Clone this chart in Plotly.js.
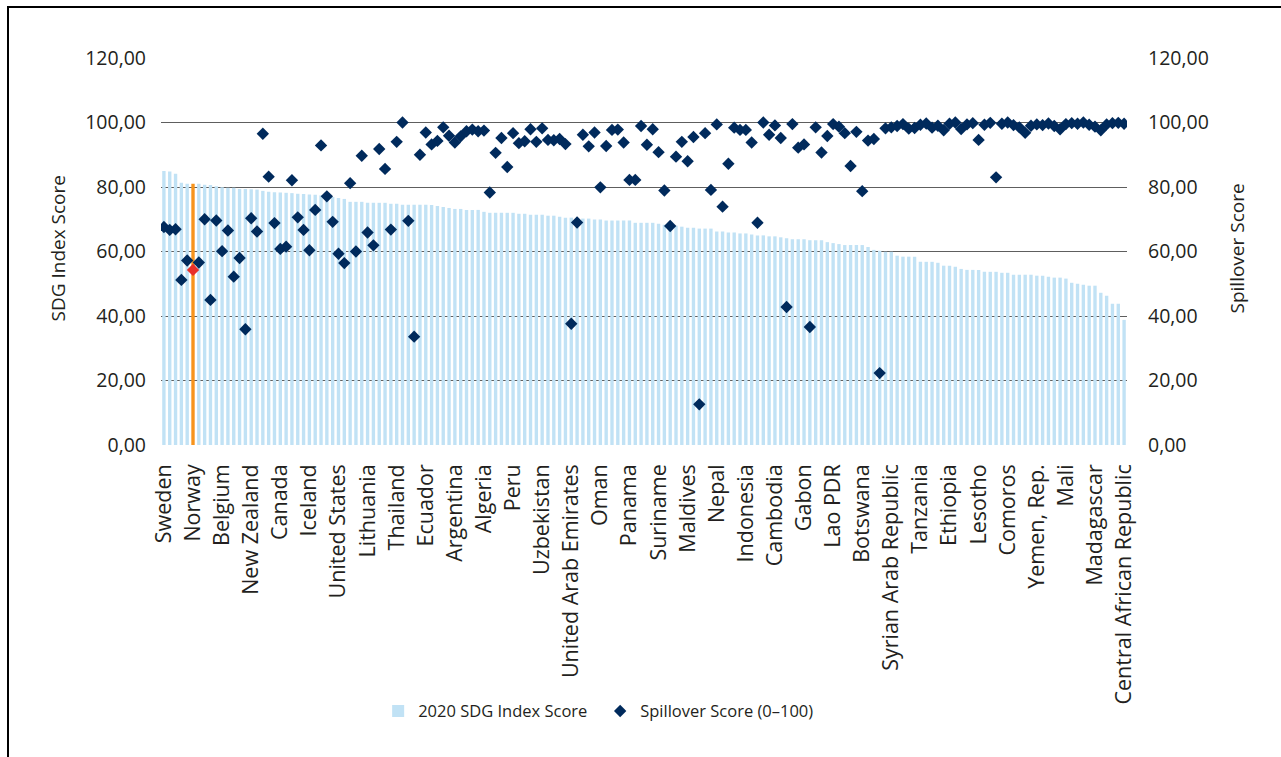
<!DOCTYPE html>
<html>
<head>
<meta charset="utf-8">
<script src="https://cdn.plot.ly/plotly-3.0.1.min.js"></script>
<style>
  html, body { margin: 0; padding: 0; background: #fff; }
  #chart { width: 1281px; height: 757px; }
  #frame { position: absolute; left: 7px; top: 6px; width: 1400px; height: 900px;
           border-left: 2px solid #000; border-top: 2px solid #000; pointer-events: none; }
</style>
</head>
<body>
<div id="chart"></div>
<div id="frame"></div>
<script>
const countries = [
  "Sweden","Denmark","Finland","France","Germany","Norway","Austria","Czech Republic","Netherlands","Estonia",
  "Belgium","Slovenia","United Kingdom","Ireland","Switzerland","New Zealand","Japan","Belarus","Croatia","Korea, Rep.",
  "Canada","Spain","Poland","Latvia","Portugal","Iceland","Slovak Republic","Chile","Hungary","Italy",
  "United States","Serbia","Australia","Bulgaria","Luxembourg","Lithuania","Malta","Romania","Moldova","Ukraine",
  "Thailand","Russian Federation","Uruguay","Israel","Greece","Ecuador","Kyrgyz Republic","Cyprus","Bosnia and Herzegovina","Azerbaijan",
  "Argentina","North Macedonia","Costa Rica","Kazakhstan","Montenegro","Algeria","Georgia","Armenia","China","Brazil",
  "Peru","Vietnam","Bolivia","Albania","Tunisia","Uzbekistan","Dominican Republic","Mexico","Fiji","Malaysia",
  "United Arab Emirates","Turkey","Jamaica","Colombia","Morocco","Oman","Iran, Islamic Rep.","Tajikistan","Jordan","Egypt, Arab Rep.",
  "Panama","El Salvador","Paraguay","Singapore","Sri Lanka","Suriname","Qatar","Saudi Arabia","Nicaragua","Bhutan",
  "Maldives","Mongolia","Kuwait","Philippines","Lebanon","Nepal","Bahrain","Ghana","Myanmar","Belize",
  "Indonesia","Trinidad and Tobago","Brunei Darussalam","Guyana","South Africa","Cambodia","Honduras","Venezuela, RB","São Tomé and Príncipe","Namibia",
  "Gabon","Iraq","Senegal","Guatemala","Bangladesh","Lao PDR","Kenya","India","Mauritius","Côte d'Ivoire",
  "Botswana","Cameroon","Gambia, The","Cabo Verde","Pakistan","Syrian Arab Republic","Uganda","Burkina Faso","Rwanda","Togo",
  "Tanzania","Zambia","Eswatini","Zimbabwe","Malawi","Ethiopia","Mauritania","Burundi","Djibouti","Guinea",
  "Lesotho","Congo, Rep.","Angola","Haiti","Benin","Comoros","Sierra Leone","Mozambique","Papua New Guinea","Afghanistan",
  "Yemen, Rep.","Niger","Liberia","Congo, Dem. Rep.","Nigeria","Mali","Guinea-Bissau","Sudan","Somalia","Chad",
  "Madagascar","South Sudan","Equatorial Guinea","Libya","Timor-Leste","Central African Republic"
];

const sdgScore = [
  85.0, 84.8, 84.1, 81.3, 81.0, 81.0, 81.0, 80.7, 80.6, 80.2,
  79.9, 79.8, 79.8, 79.4, 79.4, 79.3, 79.2, 78.8, 78.5, 78.4,
  78.3, 78.2, 78.1, 77.9, 77.8, 77.7, 77.6, 77.4, 77.2, 76.9,
  76.6, 76.3, 75.4, 75.4, 75.4, 75.1, 75.1, 75.1, 75.1, 74.8,
  74.8, 74.5, 74.5, 74.5, 74.5, 74.5, 74.4, 74.1, 73.8, 73.5,
  73.2, 73.2, 72.9, 72.9, 72.9, 72.3, 72.0, 72.0, 72.0, 72.0,
  72.0, 71.7, 71.7, 71.4, 71.4, 71.4, 71.1, 71.1, 70.8, 70.5,
  70.5, 70.2, 70.2, 70.2, 69.9, 69.9, 69.6, 69.6, 69.6, 69.6,
  69.6, 68.9, 68.9, 68.9, 68.9, 68.6, 68.3, 68.0, 68.0, 67.7,
  67.4, 67.4, 67.1, 67.1, 67.1, 66.2, 66.2, 65.9, 65.9, 65.6,
  65.6, 65.3, 65.0, 65.0, 64.7, 64.7, 64.4, 64.1, 63.8, 63.8,
  63.8, 63.5, 63.5, 63.5, 62.9, 62.6, 62.3, 62.0, 62.0, 62.0,
  62.0, 61.4, 60.5, 60.2, 59.9, 59.9, 58.7, 58.4, 58.4, 58.4,
  56.8, 56.8, 56.8, 56.5, 55.6, 55.6, 55.3, 54.6, 54.3, 54.3,
  54.3, 53.7, 53.7, 53.7, 53.4, 53.4, 52.8, 52.8, 52.8, 52.8,
  52.5, 52.5, 52.2, 51.9, 51.9, 51.6, 50.3, 50.0, 49.7, 49.4,
  49.4, 47.2, 46.3, 43.8, 43.8, 38.8
];

const spilloverScore = [
  67.6, 66.7, 66.9, 51.2, 57.2, 54.3, 56.6, 70.0, 45.0, 69.6,
  60.1, 66.5, 52.2, 58.0, 35.9, 70.3, 66.2, 96.5, 83.2, 68.8,
  60.8, 61.5, 82.1, 70.6, 66.7, 60.4, 72.9, 92.9, 77.1, 69.2,
  59.3, 56.4, 81.2, 60.0, 89.7, 65.9, 61.9, 91.8, 85.6, 66.8,
  94.0, 100.0, 69.5, 33.6, 90.0, 96.9, 93.2, 94.3, 98.5, 95.9,
  93.8, 95.7, 97.3, 97.8, 97.3, 97.5, 78.3, 90.6, 95.2, 86.2,
  96.7, 93.6, 94.2, 97.9, 94.0, 98.2, 94.6, 94.5, 94.9, 93.3,
  37.6, 69.0, 96.2, 92.6, 96.9, 79.9, 92.7, 97.7, 97.8, 93.8,
  82.2, 82.2, 98.9, 93.1, 97.9, 90.8, 78.9, 67.9, 89.4, 94.0,
  88.0, 95.5, 12.6, 96.7, 79.1, 99.4, 73.9, 87.2, 98.4, 97.7,
  97.7, 93.8, 68.9, 100.0, 96.2, 99.1, 95.2, 42.8, 99.5, 92.2,
  93.2, 36.6, 98.5, 90.7, 95.8, 99.5, 98.7, 96.7, 86.5, 97.1,
  78.7, 94.4, 94.9, 22.3, 98.2, 98.5, 98.9, 99.5, 98.1, 98.3,
  99.3, 99.7, 98.4, 99.0, 97.6, 99.6, 100.0, 98.0, 99.4, 99.8,
  94.6, 99.3, 99.9, 83.0, 99.6, 100.0, 99.2, 98.5, 96.8, 99.0,
  99.4, 99.2, 99.7, 98.9, 97.9, 99.5, 99.8, 99.6, 100.0, 99.3,
  98.7, 97.6, 99.4, 99.8, 99.9, 99.6
];

const tickLabels = countries.filter((c, i) => i % 5 === 0);
const highlight = "Norway";

const barColor = "#c1e2f5";
const barHighlight = "#f7941d";
const dotColor = "#002a5c";
const dotHighlight = "#e8302a";

const fontFamily = "'Open Sans', 'Noto Sans', sans-serif";
const textColor = "#231f20";

const traces = [
  {
    type: "bar",
    name: "2020 SDG Index Score",
    x: countries,
    y: sdgScore,
    marker: { color: countries.map(c => c === highlight ? barHighlight : barColor) },
    yaxis: "y",
    hoverinfo: "x+y"
  },
  {
    type: "scatter",
    mode: "markers",
    name: "Spillover Score (0–100)",
    x: countries,
    y: spilloverScore,
    marker: {
      symbol: "diamond",
      size: 9.5,
      color: countries.map(c => c === highlight ? dotHighlight : dotColor),
      line: { width: 0 }
    },
    yaxis: "y2",
    hoverinfo: "x+y"
  }
];

const layout = {
  width: 1281,
  height: 757,
  margin: { l: 161, r: 154, t: 58, b: 312, pad: 0, autoexpand: false },
  paper_bgcolor: "#ffffff",
  plot_bgcolor: "#ffffff",
  separators: ", ",
  font: { family: fontFamily, size: 18, color: textColor },
  bargap: 0.42,
  showlegend: true,
  legend: {
    orientation: "h",
    x: 0.2248, xanchor: "left",
    y: -0.688, yanchor: "middle",
    entrywidth: 177,
    font: { family: fontFamily, size: 16.5, color: textColor },
    bgcolor: "rgba(0,0,0,0)",
    traceorder: "normal"
  },
  xaxis: {
    type: "category",
    categoryorder: "array",
    categoryarray: countries,
    range: [-0.5, countries.length - 0.5],
    autorange: false,
    automargin: false,
    tickmode: "array",
    tickvals: tickLabels,
    ticktext: tickLabels,
    tickangle: -90,
    ticks: "",
    ticklabelstandoff: 14,
    showgrid: false,
    zeroline: false,
    showline: false,
    tickfont: { family: fontFamily, size: 21.5, color: textColor },
    fixedrange: true
  },
  yaxis: {
    range: [0, 120],
    autorange: false,
    automargin: false,
    tickmode: "linear",
    tick0: 0,
    dtick: 20,
    tickformat: ".2f",
    ticks: "",
    ticklabelstandoff: 14,
    showgrid: true,
    gridcolor: "#5e5e5e",
    gridwidth: 1,
    zeroline: false,
    showline: false,
    tickfont: { family: fontFamily, size: 19.5, color: textColor },
    fixedrange: true
  },
  yaxis2: {
    overlaying: "y",
    side: "right",
    range: [0, 120],
    autorange: false,
    automargin: false,
    tickmode: "linear",
    tick0: 0,
    dtick: 20,
    tickformat: ".2f",
    ticks: "",
    ticklabelstandoff: 20,
    showgrid: false,
    zeroline: false,
    showline: false,
    tickfont: { family: fontFamily, size: 19.5, color: textColor },
    fixedrange: true
  },
  annotations: [
    {
      text: "SDG Index Score",
      xref: "paper", yref: "paper",
      x: 0, y: 0.5, xshift: -104, yshift: 3,
      xanchor: "center", yanchor: "middle",
      textangle: -90, showarrow: false,
      font: { family: fontFamily, size: 19, color: textColor }
    },
    {
      text: "Spillover Score",
      xref: "paper", yref: "paper",
      x: 1, y: 0.5, xshift: 109, yshift: 3,
      xanchor: "center", yanchor: "middle",
      textangle: -90, showarrow: false,
      font: { family: fontFamily, size: 19, color: textColor }
    }
  ]
};

Plotly.newPlot("chart", traces, layout, { displayModeBar: false, staticPlot: true });
</script>
</body>
</html>
